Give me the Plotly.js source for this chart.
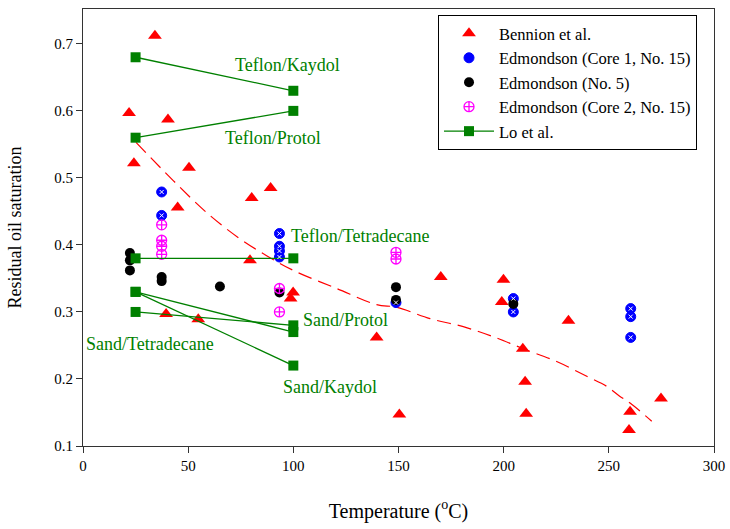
<!DOCTYPE html>
<html>
<head>
<meta charset="utf-8">
<script src="https://cdn.plot.ly/plotly-3.0.1.min.js"></script>
<style>html,body{margin:0;padding:0;background:#fff;}#chart{width:730px;height:529px;}</style>
</head>
<body>
<div id="chart"></div>
<script>
// Bennion et al.
const bennionX = [34.2, 21.9, 40.4, 24.2, 50.4, 45.0, 89.2, 80.2, 79.4, 99.9, 98.7, 39.5, 54.8, 139.6, 150.4, 170.1, 199.9, 199.1, 230.8, 209.1, 210.2, 210.7, 274.8, 260.1, 259.6];
const bennionY = [0.712, 0.597, 0.587, 0.522, 0.515, 0.456, 0.485, 0.470, 0.377, 0.329, 0.320, 0.297, 0.289, 0.262, 0.147, 0.352, 0.348, 0.315, 0.287, 0.245, 0.196, 0.148, 0.171, 0.151, 0.124];
// Edmondson (Core 1, No. 15)
const core1X = [37.4, 37.4, 93.4, 93.4, 93.4, 93.4, 148.8, 204.6, 204.6, 260.4, 260.4, 260.4];
const core1Y = [0.479, 0.444, 0.417, 0.398, 0.391, 0.382, 0.314, 0.320, 0.300, 0.305, 0.293, 0.262];
// Edmondson (No. 5)
const no5X = [22.3, 22.3, 22.3, 37.4, 37.4, 65.1, 93.4, 148.8, 148.8, 204.6];
const no5Y = [0.388, 0.377, 0.362, 0.352, 0.346, 0.338, 0.329, 0.337, 0.318, 0.312];
// Edmondson (Core 2, No. 15)
const core2X = [37.4, 37.4, 37.4, 37.4, 93.4, 93.4, 148.8, 148.8];
const core2Y = [0.430, 0.407, 0.398, 0.386, 0.335, 0.300, 0.389, 0.379];
// Lo et al. (segments separated by null)
const loX = [25, 100, null, 25, 100, null, 25, 100, null, 25, 100, null, 25, 100, null, 25, 100];
const loY = [0.68, 0.63, null, 0.56, 0.60, null, 0.38, 0.38, null, 0.33, 0.27, null, 0.30, 0.28, null, 0.33, 0.22];
// Trend curve
const trendX = [25.2, 42.9, 59.6, 74.7, 87.3, 100, 120.6, 139.6, 149.1, 165, 180.8, 195.1, 209.4, 225.2, 239.5, 249, 255.3, 260.1, 270.4];
const trendY = [0.553, 0.496, 0.446, 0.409, 0.384, 0.362, 0.335, 0.311, 0.307, 0.290, 0.278, 0.263, 0.245, 0.226, 0.204, 0.189, 0.174, 0.164, 0.137];
// Labels
const labelText = ["Teflon/Kaydol", "Teflon/Protol", "Teflon/Tetradecane", "Sand/Protol", "Sand/Kaydol", "Sand/Tetradecane"];
const labelX = [97, 90.3, 131.7, 124.6, 117.4, 32];
const labelY = [0.669, 0.559, 0.414, 0.288, 0.188, 0.252];
const xTicks = [0, 50, 100, 150, 200, 250, 300];
const yTicks = [0.1, 0.2, 0.3, 0.4, 0.5, 0.6, 0.7];

const FONT = "Liberation Serif";
const green = "#008000";

const traces = [
  {x: trendX, y: trendY, mode: "lines", line: {color: "#ff0000", width: 1.2, dash: "14px,7px", shape: "spline"}, showlegend: false, hoverinfo: "skip"},
  {x: bennionX, y: bennionY, mode: "markers", name: "Bennion et al.", marker: {symbol: "triangle-up", size: 12, color: "#ff0000"}},
  {x: core1X, y: core1Y, mode: "markers", name: "Edmondson (Core 1, No. 15)", marker: {symbol: "circle", size: 10, color: "#0000ff", line: {color: "#0000ff", width: 1}}},
  {x: no5X, y: no5Y, mode: "markers", name: "Edmondson (No. 5)", marker: {symbol: "circle", size: 10, color: "#000000"}},
  {x: core2X, y: core2Y, mode: "markers", name: "Edmondson (Core 2, No. 15)", marker: {symbol: "circle-cross-open", size: 10, color: "#ff00ff", line: {width: 1.3}}},
  {x: loX, y: loY, mode: "lines+markers", name: "Lo et al.", connectgaps: false, line: {color: green, width: 1.3}, marker: {symbol: "square", size: 10, color: green}},
  {x: core1X, y: core1Y, mode: "markers", showlegend: false, hoverinfo: "skip", marker: {symbol: "x-thin", size: 4, color: "#ffffff", line: {color: "#ffffff", width: 1}}}
];

const annotations = labelText.map((t, i) => ({
  x: labelX[i], y: labelY[i], xref: "x", yref: "y", text: t, showarrow: false,
  font: {family: FONT, size: 18, color: green}
}));

const layout = {
  width: 730, height: 529,
  margin: {l: 83, r: 16, t: 9, b: 83},
  paper_bgcolor: "#fff", plot_bgcolor: "#fff",
  font: {family: FONT, size: 15, color: "#000"},
  showlegend: true,
  legend: {x: 0.5626, y: 0.986, xanchor: "left", yanchor: "top", bgcolor: "#fff", bordercolor: "#000", borderwidth: 1, font: {family: FONT, size: 16.5}, itemwidth: 50, tracegroupgap: 0},
  xaxis: {
    range: [0, 300], tickvals: xTicks, ticktext: xTicks.map(String),
    ticks: "outside", ticklen: 6, tickcolor: "#333", showgrid: false, zeroline: false,
    showline: true, linecolor: "#333", linewidth: 1, mirror: true,
    tickfont: {family: FONT, size: 15},
    title: {text: "Temperature (<sup>o</sup>C)", font: {family: FONT, size: 20}, standoff: 30}
  },
  yaxis: {
    range: [0.1, 0.752], tickvals: yTicks, ticktext: yTicks.map(v => v.toFixed(1)),
    ticks: "outside", ticklen: 6, tickcolor: "#333", showgrid: false, zeroline: false,
    showline: true, linecolor: "#333", linewidth: 1, mirror: true,
    tickfont: {family: FONT, size: 15},
    title: {text: "Residual oil saturation", font: {family: FONT, size: 18}, standoff: 27}
  },
  annotations: annotations
};

Plotly.newPlot("chart", traces, layout, {staticPlot: true});
</script>
</body>
</html>
